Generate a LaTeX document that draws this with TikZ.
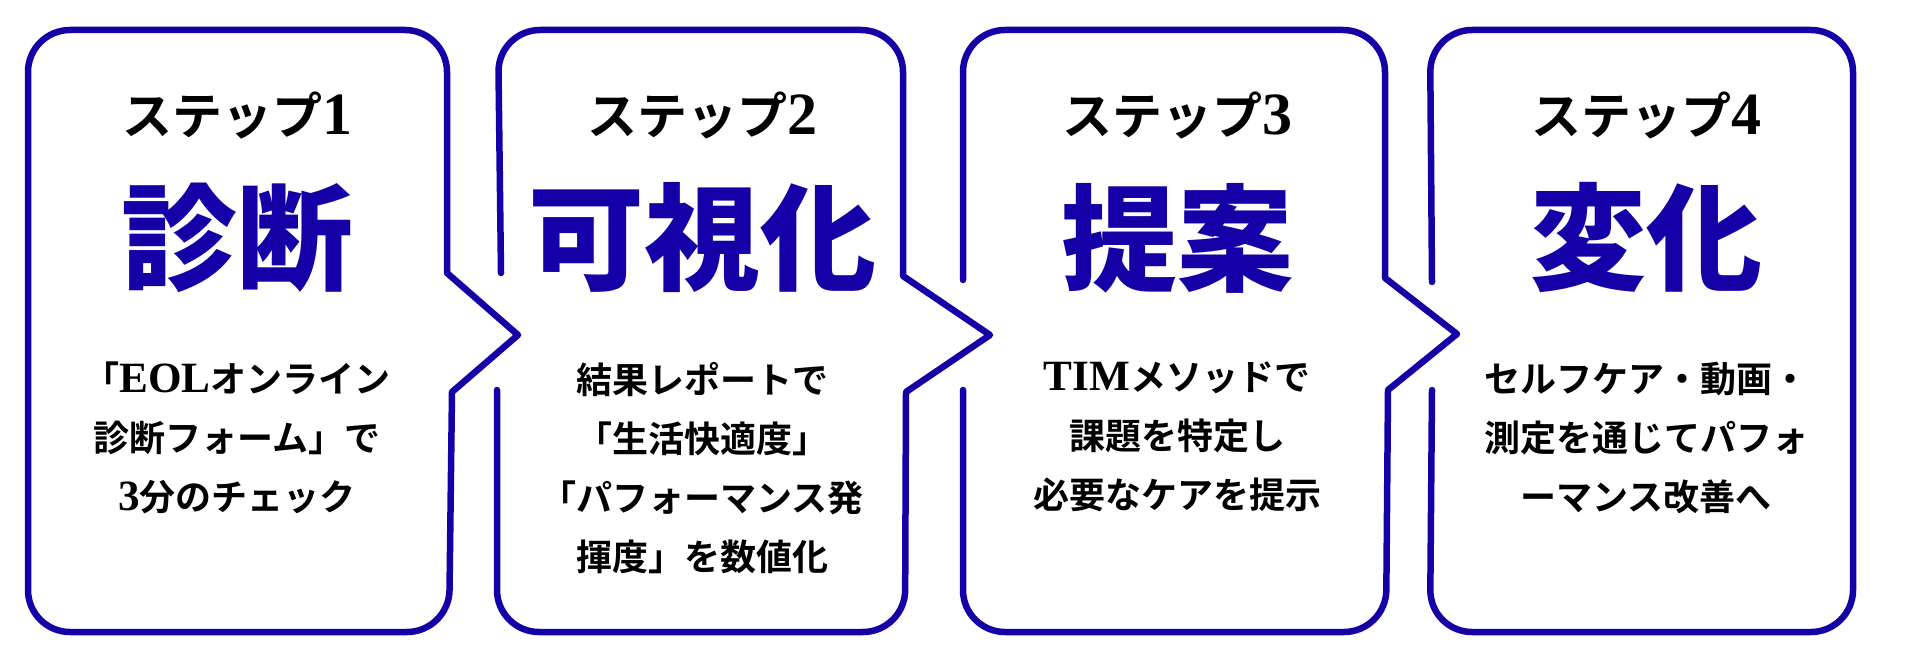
\documentclass[tikz,border=0pt]{standalone}
\usepackage{fontspec}
\newfontfamily\jpbf{Noto Sans CJK JP}[UprightFont=* Bold]
\newfontfamily\jpblk{Noto Sans CJK JP}[UprightFont=* Black]
\newfontfamily\lat{Liberation Serif}[UprightFont=* Bold,Scale=1.2]
\definecolor{stepblue}{RGB}{21,0,168}

\begin{document}
\begin{tikzpicture}[x=1pt,y=-1pt,
    outline/.style={draw=stepblue,line width=6.5pt,line cap=round,line join=round},
    head/.style={inner sep=0pt,font=\jpbf\fontsize{50}{50}\selectfont},
    ttl/.style={inner sep=0pt,text=stepblue,font=\jpblk\fontsize{116}{116}\selectfont},
    body/.style={inner sep=0pt,anchor=north,align=center,font=\jpbf\fontsize{36}{59}\selectfont}]
  \useasboundingbox (0,0) rectangle (1920,668);

  % outlines
  \draw[outline] (28,330) [rounded corners=42] -- (28,30) -- (447,30) [sharp corners] -- (447,273)
     -- (518,335) -- (452,392) [rounded corners=42] -- (449,632) -- (28,632) -- cycle;
  \draw[outline] (501,273) [rounded corners=42] -- (498,30) -- (903,30) [sharp corners] -- (903,276)
     -- (990,335) -- (906,392) [rounded corners=42] -- (905,632) -- (497,632) -- (497,390);
  \draw[outline] (963,280) [rounded corners=42] -- (963,30) -- (1385,30) [sharp corners] -- (1385,278)
     -- (1457,334) -- (1388,390) [rounded corners=42] -- (1386,632) -- (963,632) -- (963,390);
  \draw[outline] (1432,282) [rounded corners=42] -- (1430,30) -- (1853,30) -- (1853,632) -- (1430,632) -- (1432,390);

  % step 1
  \node[head] (h1) at (237,116) {ステップ{\lat 1}};
  \node[ttl] (t1) at (237,238) {診断};
  \node[body] (b1) at (237,362) {「{\lat EOL}オンライン\\診断フォーム」で\\{\lat 3}分のチェック};

  % step 2
  \node[head] (h2) at (702,116) {ステップ{\lat 2}};
  \node[ttl] (t2) at (702,238) {可視化};
  \node[body] (b2) at (702,362) {結果レポートで\\「生活快適度」\\「パフォーマンス発\\揮度」を数値化};

  % step 3
  \node[head] (h3) at (1177,116) {ステップ{\lat 3}};
  \node[ttl] (t3) at (1177,238) {提案};
  \node[body] (b3) at (1177,362) {{\lat TIM}メソッドで\\課題を特定し\\必要なケアを提示};

  % step 4
  \node[head] (h4) at (1646,116) {ステップ{\lat 4}};
  \node[ttl] (t4) at (1646,238) {変化};
  \node[body] (b4) at (1646,362) {セルフケア・動画・\\測定を通じてパフォ\\ーマンス改善へ};
\end{tikzpicture}
\end{document}
